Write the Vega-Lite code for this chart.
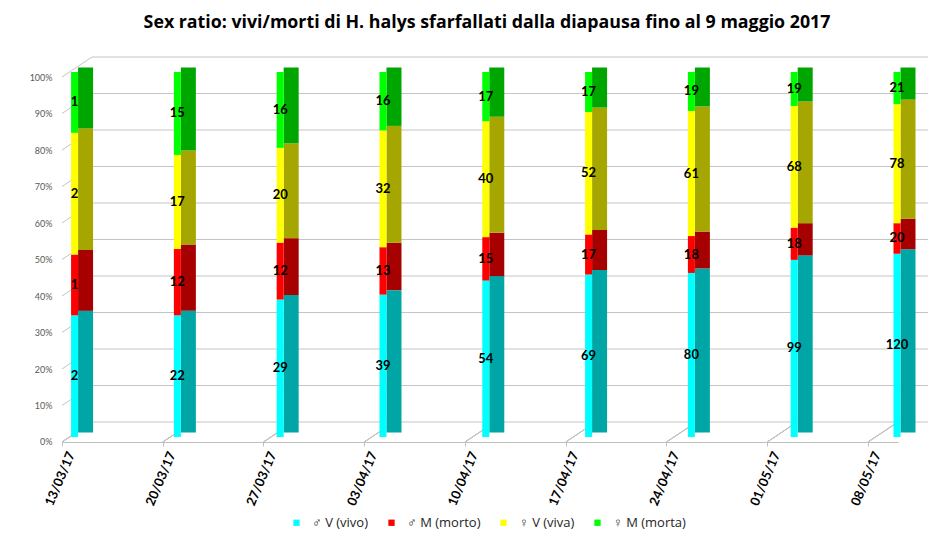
{
  "$schema": "https://vega.github.io/schema/vega-lite/v6.json",
  "width": 836,
  "height": 415,
  "autosize": {"type": "none"},
  "padding": {"left": 62, "top": 27, "right": 52, "bottom": 96},
  "background": "white",
  "title": {
    "text": "Sex ratio: vivi/morti di H. halys sfarfallati dalla diapausa  fino al 9 maggio 2017",
    "font": "Open Sans",
    "fontSize": 17.8,
    "fontWeight": "bold",
    "color": "#000000",
    "anchor": "middle",
    "offset": 0,
    "dy": 5,
    "dx": 7
  },
  "data": {
    "values": [
      {"date": "13/03/17", "cat": "♂ V (vivo)", "o": 1, "n": 2},
      {"date": "13/03/17", "cat": "♂ M (morto)", "o": 2, "n": 1},
      {"date": "13/03/17", "cat": "♀ V (viva)", "o": 3, "n": 2},
      {"date": "13/03/17", "cat": "♀ M (morta)", "o": 4, "n": 1},
      {"date": "20/03/17", "cat": "♂ V (vivo)", "o": 1, "n": 22},
      {"date": "20/03/17", "cat": "♂ M (morto)", "o": 2, "n": 12},
      {"date": "20/03/17", "cat": "♀ V (viva)", "o": 3, "n": 17},
      {"date": "20/03/17", "cat": "♀ M (morta)", "o": 4, "n": 15},
      {"date": "27/03/17", "cat": "♂ V (vivo)", "o": 1, "n": 29},
      {"date": "27/03/17", "cat": "♂ M (morto)", "o": 2, "n": 12},
      {"date": "27/03/17", "cat": "♀ V (viva)", "o": 3, "n": 20},
      {"date": "27/03/17", "cat": "♀ M (morta)", "o": 4, "n": 16},
      {"date": "03/04/17", "cat": "♂ V (vivo)", "o": 1, "n": 39},
      {"date": "03/04/17", "cat": "♂ M (morto)", "o": 2, "n": 13},
      {"date": "03/04/17", "cat": "♀ V (viva)", "o": 3, "n": 32},
      {"date": "03/04/17", "cat": "♀ M (morta)", "o": 4, "n": 16},
      {"date": "10/04/17", "cat": "♂ V (vivo)", "o": 1, "n": 54},
      {"date": "10/04/17", "cat": "♂ M (morto)", "o": 2, "n": 15},
      {"date": "10/04/17", "cat": "♀ V (viva)", "o": 3, "n": 40},
      {"date": "10/04/17", "cat": "♀ M (morta)", "o": 4, "n": 17},
      {"date": "17/04/17", "cat": "♂ V (vivo)", "o": 1, "n": 69},
      {"date": "17/04/17", "cat": "♂ M (morto)", "o": 2, "n": 17},
      {"date": "17/04/17", "cat": "♀ V (viva)", "o": 3, "n": 52},
      {"date": "17/04/17", "cat": "♀ M (morta)", "o": 4, "n": 17},
      {"date": "24/04/17", "cat": "♂ V (vivo)", "o": 1, "n": 80},
      {"date": "24/04/17", "cat": "♂ M (morto)", "o": 2, "n": 18},
      {"date": "24/04/17", "cat": "♀ V (viva)", "o": 3, "n": 61},
      {"date": "24/04/17", "cat": "♀ M (morta)", "o": 4, "n": 19},
      {"date": "01/05/17", "cat": "♂ V (vivo)", "o": 1, "n": 99},
      {"date": "01/05/17", "cat": "♂ M (morto)", "o": 2, "n": 18},
      {"date": "01/05/17", "cat": "♀ V (viva)", "o": 3, "n": 68},
      {"date": "01/05/17", "cat": "♀ M (morta)", "o": 4, "n": 19},
      {"date": "08/05/17", "cat": "♂ V (vivo)", "o": 1, "n": 120},
      {"date": "08/05/17", "cat": "♂ M (morto)", "o": 2, "n": 20},
      {"date": "08/05/17", "cat": "♀ V (viva)", "o": 3, "n": 78},
      {"date": "08/05/17", "cat": "♀ M (morta)", "o": 4, "n": 21}
    ]
  },
  "layer": [
    {
      "transform": [{"filter": "datum.o == 1 && datum.date == '13/03/17'"}],
      "encoding": {
        "x": {"field": "date", "type": "ordinal", "scale": {"type": "point", "padding": 0.1489, "align": 0, "domain": ["13/03/17", "20/03/17", "27/03/17", "03/04/17", "10/04/17", "17/04/17", "24/04/17", "01/05/17", "08/05/17"]}, "axis": null},
        "x2": {"field": "date"}
      },
      "layer": [
        {"mark": {"type": "rule", "color": "#c4c4c4", "strokeWidth": 1, "xOffset": 30, "x2Offset": 866}, "encoding": {"y": {"datum": 0, "type": "quantitative", "scale": {"domain": [-0.0548, 1.0822], "nice": false, "zero": false}, "axis": null}, "y2": {"datum": 0}}},
        {"mark": {"type": "rule", "color": "#c4c4c4", "strokeWidth": 1, "xOffset": 30, "x2Offset": 866}, "encoding": {"y": {"datum": 0.1, "type": "quantitative", "scale": {"domain": [-0.0548, 1.0822], "nice": false, "zero": false}, "axis": null}, "y2": {"datum": 0.1}}},
        {"mark": {"type": "rule", "color": "#c4c4c4", "strokeWidth": 1, "xOffset": 30, "x2Offset": 866}, "encoding": {"y": {"datum": 0.2, "type": "quantitative", "scale": {"domain": [-0.0548, 1.0822], "nice": false, "zero": false}, "axis": null}, "y2": {"datum": 0.2}}},
        {"mark": {"type": "rule", "color": "#c4c4c4", "strokeWidth": 1, "xOffset": 30, "x2Offset": 866}, "encoding": {"y": {"datum": 0.3, "type": "quantitative", "scale": {"domain": [-0.0548, 1.0822], "nice": false, "zero": false}, "axis": null}, "y2": {"datum": 0.3}}},
        {"mark": {"type": "rule", "color": "#c4c4c4", "strokeWidth": 1, "xOffset": 30, "x2Offset": 866}, "encoding": {"y": {"datum": 0.4, "type": "quantitative", "scale": {"domain": [-0.0548, 1.0822], "nice": false, "zero": false}, "axis": null}, "y2": {"datum": 0.4}}},
        {"mark": {"type": "rule", "color": "#c4c4c4", "strokeWidth": 1, "xOffset": 30, "x2Offset": 866}, "encoding": {"y": {"datum": 0.5, "type": "quantitative", "scale": {"domain": [-0.0548, 1.0822], "nice": false, "zero": false}, "axis": null}, "y2": {"datum": 0.5}}},
        {"mark": {"type": "rule", "color": "#c4c4c4", "strokeWidth": 1, "xOffset": 30, "x2Offset": 866}, "encoding": {"y": {"datum": 0.6, "type": "quantitative", "scale": {"domain": [-0.0548, 1.0822], "nice": false, "zero": false}, "axis": null}, "y2": {"datum": 0.6}}},
        {"mark": {"type": "rule", "color": "#c4c4c4", "strokeWidth": 1, "xOffset": 30, "x2Offset": 866}, "encoding": {"y": {"datum": 0.7, "type": "quantitative", "scale": {"domain": [-0.0548, 1.0822], "nice": false, "zero": false}, "axis": null}, "y2": {"datum": 0.7}}},
        {"mark": {"type": "rule", "color": "#c4c4c4", "strokeWidth": 1, "xOffset": 30, "x2Offset": 866}, "encoding": {"y": {"datum": 0.8, "type": "quantitative", "scale": {"domain": [-0.0548, 1.0822], "nice": false, "zero": false}, "axis": null}, "y2": {"datum": 0.8}}},
        {"mark": {"type": "rule", "color": "#c4c4c4", "strokeWidth": 1, "xOffset": 30, "x2Offset": 866}, "encoding": {"y": {"datum": 0.9, "type": "quantitative", "scale": {"domain": [-0.0548, 1.0822], "nice": false, "zero": false}, "axis": null}, "y2": {"datum": 0.9}}},
        {"mark": {"type": "rule", "color": "#c4c4c4", "strokeWidth": 1, "xOffset": 30, "x2Offset": 866}, "encoding": {"y": {"datum": 1, "type": "quantitative", "scale": {"domain": [-0.0548, 1.0822], "nice": false, "zero": false}, "axis": null}, "y2": {"datum": 1}}},
        {"mark": {"type": "rule", "color": "#c4c4c4", "strokeWidth": 1, "yOffset": 20, "x2Offset": 30}, "encoding": {"y": {"datum": 0.1, "type": "quantitative", "scale": {"domain": [-0.0548, 1.0822], "nice": false, "zero": false}, "axis": null}, "y2": {"datum": 0.1}}},
        {"mark": {"type": "rule", "color": "#c4c4c4", "strokeWidth": 1, "yOffset": 20, "x2Offset": 30}, "encoding": {"y": {"datum": 0.2, "type": "quantitative", "scale": {"domain": [-0.0548, 1.0822], "nice": false, "zero": false}, "axis": null}, "y2": {"datum": 0.2}}},
        {"mark": {"type": "rule", "color": "#c4c4c4", "strokeWidth": 1, "yOffset": 20, "x2Offset": 30}, "encoding": {"y": {"datum": 0.3, "type": "quantitative", "scale": {"domain": [-0.0548, 1.0822], "nice": false, "zero": false}, "axis": null}, "y2": {"datum": 0.3}}},
        {"mark": {"type": "rule", "color": "#c4c4c4", "strokeWidth": 1, "yOffset": 20, "x2Offset": 30}, "encoding": {"y": {"datum": 0.4, "type": "quantitative", "scale": {"domain": [-0.0548, 1.0822], "nice": false, "zero": false}, "axis": null}, "y2": {"datum": 0.4}}},
        {"mark": {"type": "rule", "color": "#c4c4c4", "strokeWidth": 1, "yOffset": 20, "x2Offset": 30}, "encoding": {"y": {"datum": 0.5, "type": "quantitative", "scale": {"domain": [-0.0548, 1.0822], "nice": false, "zero": false}, "axis": null}, "y2": {"datum": 0.5}}},
        {"mark": {"type": "rule", "color": "#c4c4c4", "strokeWidth": 1, "yOffset": 20, "x2Offset": 30}, "encoding": {"y": {"datum": 0.6, "type": "quantitative", "scale": {"domain": [-0.0548, 1.0822], "nice": false, "zero": false}, "axis": null}, "y2": {"datum": 0.6}}},
        {"mark": {"type": "rule", "color": "#c4c4c4", "strokeWidth": 1, "yOffset": 20, "x2Offset": 30}, "encoding": {"y": {"datum": 0.7, "type": "quantitative", "scale": {"domain": [-0.0548, 1.0822], "nice": false, "zero": false}, "axis": null}, "y2": {"datum": 0.7}}},
        {"mark": {"type": "rule", "color": "#c4c4c4", "strokeWidth": 1, "yOffset": 20, "x2Offset": 30}, "encoding": {"y": {"datum": 0.8, "type": "quantitative", "scale": {"domain": [-0.0548, 1.0822], "nice": false, "zero": false}, "axis": null}, "y2": {"datum": 0.8}}},
        {"mark": {"type": "rule", "color": "#c4c4c4", "strokeWidth": 1, "yOffset": 20, "x2Offset": 30}, "encoding": {"y": {"datum": 0.9, "type": "quantitative", "scale": {"domain": [-0.0548, 1.0822], "nice": false, "zero": false}, "axis": null}, "y2": {"datum": 0.9}}},
        {"mark": {"type": "rule", "color": "#c4c4c4", "strokeWidth": 1, "yOffset": 20, "x2Offset": 30}, "encoding": {"y": {"datum": 1, "type": "quantitative", "scale": {"domain": [-0.0548, 1.0822], "nice": false, "zero": false}, "axis": null}, "y2": {"datum": 1}}}
      ]
    },
    {
      "mark": {"type": "rule", "color": "#c4c4c4", "strokeWidth": 1, "yOffset": 20, "x2Offset": 30},
      "encoding": {
        "x": {"field": "date", "type": "ordinal", "sort": null, "scale": {"type": "point", "padding": 0.1489, "align": 0}, "axis": null},
        "x2": {"field": "date"},
        "y": {"datum": 0, "type": "quantitative", "scale": {"domain": [-0.0548, 1.0822], "nice": false, "zero": false}, "axis": null},
        "y2": {"datum": 0}
      }
    },
    {
      "mark": {"type": "point", "opacity": 0},
      "encoding": {
        "x": {
          "field": "date", "type": "ordinal", "sort": null,
          "scale": {"type": "point", "padding": 0.1489, "align": 0},
          "axis": {
            "orient": "bottom", "title": null,
            "labelAngle": -67, "labelAlign": "right", "labelBaseline": "middle",
            "labelFont": "Lato", "labelFontSize": 13, "labelFontWeight": "bold", "labelColor": "#000000",
            "labelOffset": 9, "labelPadding": 6,
            "domainColor": "#bfbfbf", "tickColor": "#bfbfbf", "tickSize": 4,
            "grid": false
          }
        },
        "y": {
          "field": "n", "type": "quantitative", "stack": "normalize",
          "scale": {"domain": [-0.0548, 1.0822], "nice": false, "zero": false},
          "axis": null
        },
        "order": {"field": "o"}
      }
    },
    {
      "mark": {"type": "bar", "width": 15, "xOffset": 11, "yOffset": -4.5, "y2Offset": -4.5},
      "encoding": {
        "x": {"field": "date", "type": "ordinal", "sort": null, "scale": {"type": "point", "padding": 0.066, "align": 0.926}, "axis": null},
        "y": {"field": "n", "type": "quantitative", "stack": "normalize", "scale": {"domain": [-0.0137, 1.1233]}, "axis": null},
        "color": {
          "field": "cat", "type": "nominal",
          "scale": {"domain": ["♂ V (vivo)", "♂ M (morto)", "♀ V (viva)", "♀ M (morta)"], "range": ["#00a6a6", "#a60000", "#a6a600", "#00a600"]},
          "legend": null
        },
        "order": {"field": "o"}
      }
    },
    {
      "mark": {"type": "bar", "width": 7},
      "encoding": {
        "x": {"field": "date", "type": "ordinal", "sort": null, "scale": {"type": "point", "padding": 0.066, "align": 0.926}, "axis": null},
        "y": {
          "field": "n", "type": "quantitative", "stack": "normalize",
          "scale": {"domain": [-0.0137, 1.1233]},
          "axis": {
            "orient": "left", "title": null,
            "values": [0, 0.1, 0.2, 0.3, 0.4, 0.5, 0.6, 0.7, 0.8, 0.9, 1],
            "format": ".0%", "labelOffset": 5, "labelPadding": 10,
            "grid": false, "ticks": false, "domain": false,
            "labelFont": "Lato", "labelFontSize": 9, "labelColor": "#595959"
          }
        },
        "color": {
          "field": "cat", "type": "nominal",
          "scale": {"domain": ["♂ V (vivo)", "♂ M (morto)", "♀ V (viva)", "♀ M (morta)"], "range": ["#00ffff", "#ff0000", "#ffff00", "#00ff00"]},
          "legend": {
            "orient": "none", "legendX": 228, "legendY": 489, "direction": "horizontal", "title": null,
            "symbolType": "square", "symbolSize": 40, "symbolStrokeWidth": 0,
            "labelFont": "Open Sans", "labelFontSize": 13, "labelColor": "#262626",
            "columnPadding": 16, "labelOffset": 9
          }
        },
        "order": {"field": "o"}
      }
    },
    {
      "transform": [
        {"stack": "n", "groupby": ["date"], "sort": [{"field": "o"}], "offset": "normalize", "as": ["y0", "y1"]},
        {"calculate": "(datum.y0 + datum.y1) / 2", "as": "mid"}
      ],
      "mark": {"type": "text", "font": "Lato", "fontWeight": "bold", "fontSize": 13, "color": "#000000"},
      "encoding": {
        "x": {"field": "date", "type": "ordinal", "sort": null, "scale": {"type": "point", "padding": 0.066, "align": 0.926}, "axis": null},
        "y": {"field": "mid", "type": "quantitative", "scale": {"domain": [-0.0137, 1.1233]}, "axis": null},
        "text": {"field": "n", "type": "quantitative"}
      }
    }
  ],
  "resolve": {
    "scale": {"x": "independent", "y": "independent", "color": "independent"},
    "axis": {"x": "independent", "y": "independent"}
  },
  "config": {"view": {"stroke": null}}
}
